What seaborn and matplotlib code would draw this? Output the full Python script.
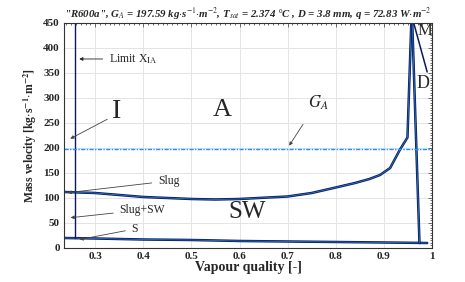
import numpy as np
import pandas as pd
import matplotlib
matplotlib.use('Agg')
import matplotlib.pyplot as plt
import seaborn as sns
from matplotlib.ticker import MultipleLocator, AutoMinorLocator

# 数据
x_ia = 0.257
g_a = 197.59

# 间歇流-环状流边界 (Slug / A)
x_ann = [0.235, 0.3, 0.4, 0.5, 0.55, 0.6, 0.7, 0.75, 0.8, 0.84, 0.87, 0.892, 0.913, 0.933, 0.949, 0.957]
g_ann = [112, 110, 102, 98, 97, 98, 103, 110, 121, 130, 138, 146, 160, 196, 221, 450]

# 分层流边界 (S)
x_strat = [0.235, 0.3, 0.4, 0.5, 0.6, 0.7, 0.8, 0.9, 0.99]
g_strat = [20, 19, 17, 16, 14, 13, 12, 11, 10]

# 干涸线 (D)
x_dry = [0.959, 0.974]
g_dry = [450, 10]

# 雾状流边界 (M)
x_mist = [0.962, 0.99]
g_mist = [450, 352]

# 限制线 X_IA
x_lim = [x_ia, x_ia]
g_lim = [19, 450]

sns.set_style('white')
plt.rcParams['font.family'] = ['Liberation Serif', 'DejaVu Serif']
plt.rcParams['mathtext.fontset'] = 'stix'

fig = plt.figure(figsize=(4.65, 2.82), dpi=100)
ax = fig.add_axes([0.1376, 0.1206, 0.7914, 0.7979])

navy = '#0b1a5a'
light = '#2b8ae0'

for xs, ys in [(x_ann, g_ann), (x_strat, g_strat), (x_dry, g_dry)]:
    sns.lineplot(x=xs, y=ys, sort=False, estimator=None, color=navy, lw=1.8, ax=ax)
    sns.lineplot(x=xs, y=ys, sort=False, estimator=None, color=light, lw=0.6, alpha=0.8, ax=ax)
sns.lineplot(x=x_mist, y=g_mist, sort=False, estimator=None, color=navy, lw=1.1, ax=ax)
sns.lineplot(x=x_lim, y=g_lim, sort=False, estimator=None, color=navy, lw=1.0, ax=ax)

# G_A 线
ax.plot([0.235, 1.0], [g_a, g_a], color='#1e90ff', lw=1.0, ls=(0, (3, 1, 1, 1)))

ax.set_xlim(0.235, 1.0)
ax.set_ylim(0, 450)
ax.yaxis.set_major_locator(MultipleLocator(50))
ax.set_xticks([0.3, 0.4, 0.5, 0.6, 0.7, 0.8, 0.9, 1.0])
ax.set_xticklabels(['0.3', '0.4', '0.5', '0.6', '0.7', '0.8', '0.9', '1'])
ax.xaxis.set_minor_locator(MultipleLocator(0.01))
ax.yaxis.set_minor_locator(AutoMinorLocator(10))
ax.tick_params(which='both', direction='in', top=True, right=True, color='#555555', width=0.6)
ax.tick_params(which='major', length=3, labelsize=8, pad=3)
ax.tick_params(which='minor', length=1.5)
for lab in ax.get_xticklabels() + ax.get_yticklabels():
    lab.set_fontweight('bold')
ax.grid(True, which='major', color='#e4e4e4', lw=0.7)
for s in ax.spines.values():
    s.set_color('#333333')
    s.set_linewidth(0.8)

ax.set_xlabel('Vapour quality [-]', fontsize=10, fontweight='bold', labelpad=0)
ax.set_ylabel('Mass velocity [kg$\\cdot$s$^{\\mathbf{-1}}$$\\cdot$m$^{\\mathbf{-2}}$]', fontsize=8.5,
              fontweight='bold', labelpad=3)
ax.set_title('"R600a", G$_A$ = 197.59 kg$\\cdot$s$^{-1}$$\\cdot$m$^{-2}$, T$_{sat}$ = 2.374 °C , '
             'D = 3.8 mm, q = 72.83 W$\\cdot$m$^{-2}$',
             fontsize=7.8, fontweight='bold', style='italic', pad=4)

# 区域标注
ax.text(0.345, 272, 'I', fontsize=20, ha='center', va='center')
ax.text(0.565, 276, 'A', fontsize=19, ha='center', va='center')
ax.text(0.615, 72, 'SW', fontsize=18, ha='center', va='center')
ax.text(0.986, 434, 'M', fontsize=12, ha='center', va='center')
ax.text(0.981, 328, 'D', fontsize=13, ha='center', va='center')
ax.text(0.763, 290, '$G_A$', fontsize=12, ha='center', va='center')

arrow = dict(arrowstyle='-|>', color='#444444', lw=0.6, mutation_scale=5)
ax.annotate('Limit X$_{\\mathrm{IA}}$', xy=(x_ia + 0.004, 378), xytext=(0.328, 378),
            fontsize=8.5, va='center', arrowprops=dict(arrowstyle='-|>', color='#222222', lw=0.6, mutation_scale=5))
ax.annotate('', xy=(0.243, 216), xytext=(0.33, 260), arrowprops=arrow)
ax.annotate('', xy=(0.70, 200), xytext=(0.735, 252), arrowprops=arrow)
ax.annotate('Slug', xy=(0.237, 110), xytext=(0.43, 134), fontsize=8.5, va='center', arrowprops=arrow)
ax.annotate('Slug+SW', xy=(0.243, 60), xytext=(0.35, 76), fontsize=8.5, va='center', arrowprops=arrow)
ax.annotate('S', xy=(0.262, 16), xytext=(0.375, 38), fontsize=8.5, va='center', arrowprops=arrow)

fig.savefig('out.png', dpi=100)
